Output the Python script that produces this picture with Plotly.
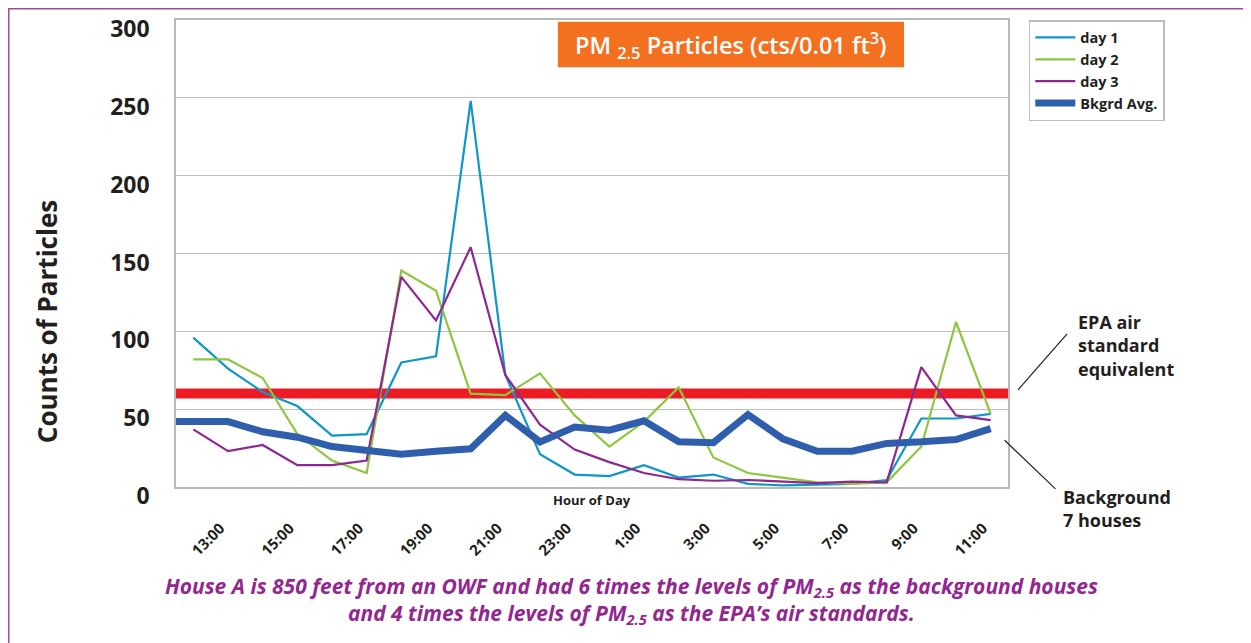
import plotly.graph_objects as go

# hourly readings, 13:00 through 12:00 the next day
hours = ["13:00", "14:00", "15:00", "16:00", "17:00", "18:00", "19:00", "20:00",
         "21:00", "22:00", "23:00", "0:00", "1:00", "2:00", "3:00", "4:00",
         "5:00", "6:00", "7:00", "8:00", "9:00", "10:00", "11:00", "12:00"]

day1 = [96, 76, 61, 52, 33, 34, 80, 84, 248, 72, 21, 8,
        7, 14, 6, 8, 2, 1, 1.5, 2, 4.5, 44, 44, 47]
day2 = [82, 82, 70, 34, 17, 9, 139, 126, 60, 59, 73, 46,
        26, 42, 64, 19, 9, 6, 3, 2, 3, 26, 106, 47]
day3 = [37, 23, 27, 14, 14, 17, 135, 107, 154, 72, 40, 24,
        16, 9, 5, 4, 4.5, 3.5, 2.5, 3.5, 3, 77, 46, 43]
# background average of 7 houses (first value sits at the left edge of the frame)
bkgrd_x = [-0.5] + list(range(len(hours)))
bkgrd = [42, 42, 42, 35.5, 32, 26, 23, 21, 23, 24.5, 46, 29, 38.5,
         36.5, 42.5, 29, 28.5, 46.5, 31, 23, 23, 28, 29, 30.5, 37.5]
EPA_LEVEL = 60

y_ticks = [0, 50, 100, 150, 200, 250, 300]

FONT = "Open Sans"
TEXT_COLOR = "#231F20"
GRID = "#BDBDBD"
CAPTION_COLOR = "#92278F"

x_pos = list(range(len(hours)))

fig = go.Figure()
series = [
    ("day 1", day1, "#0E96C9", 2.2),
    ("day 2", day2, "#8DC63F", 2.2),
    ("day 3", day3, "#8E278F", 2.2),
]
for name, vals, color, width in series:
    fig.add_trace(go.Scatter(x=x_pos, y=vals, mode="lines", name=name,
                             line=dict(color=color, width=width)))
fig.add_trace(go.Scatter(x=bkgrd_x, y=bkgrd, mode="lines", name="Bkgrd Avg.",
                         line=dict(color="#2F5FAC", width=7)))

# EPA equivalent as a thick red band across the whole plot
fig.add_hline(y=EPA_LEVEL, line=dict(color="#ED1C24", width=10), layer="below")

# page body adds an 8px margin, so the figure is 8px smaller than the window
fig.update_layout(
    width=1243, height=635,
    margin=dict(l=168, r=243, t=12, b=156, autoexpand=False),
    paper_bgcolor="white", plot_bgcolor="white",
    font=dict(family=FONT, color=TEXT_COLOR),
    legend=dict(
        x=1.025, y=1.0, xanchor="left", yanchor="top",
        bordercolor="#BDBDBD", borderwidth=1.5,
        font=dict(size=14.5, family=FONT, weight="bold"),
        tracegroupgap=0, itemwidth=40,
    ),
    xaxis=dict(
        range=[-0.5, len(hours) - 0.5],
        tickvals=x_pos[::2], ticktext=hours[::2],
        tickangle=-45, ticks="", automargin=False,
        tickfont=dict(size=15, family=FONT, weight="bold"),
        ticklabelstandoff=25, ticklabelshift=27,
        showgrid=False, zeroline=False,
        showline=True, mirror=True, linecolor="#B8B8B8", linewidth=1.5,
    ),
    yaxis=dict(
        range=[0, 300], tickvals=y_ticks, automargin=False,
        tickfont=dict(size=23, family=FONT, weight="bold"),
        ticklabelstandoff=20, ticklabelshift=9, ticklabeloverflow="allow",
        showgrid=True, gridcolor=GRID, gridwidth=1,
        zeroline=False,
        showline=True, mirror=True, linecolor="#B8B8B8", linewidth=1.5,
    ),
)

# orange title box
fig.add_shape(type="rect", xref="paper", yref="paper",
              x0=0.459, x1=0.875, y0=0.899, y1=0.996,
              fillcolor="#F37021", line=dict(width=0), layer="below")
fig.add_annotation(xref="paper", yref="paper", x=0.667, y=0.947,
                   xanchor="center", yanchor="middle",
                   text="PM <sub>2.5</sub> Particles (cts/0.01 ft<sup>3</sup>)",
                   showarrow=False,
                   font=dict(size=23.5, color="white", family=FONT, weight=600))

# axis titles
fig.add_annotation(xref="paper", yref="paper", x=0.5, y=-0.028,
                   xanchor="center", yanchor="middle",
                   text="Hour of Day", showarrow=False,
                   font=dict(size=13, family=FONT, weight="bold"))
fig.add_annotation(xref="paper", yref="paper", x=-0.155, y=0.353,
                   xanchor="center", yanchor="middle",
                   text="Counts of Particles", textangle=-90, showarrow=False,
                   font=dict(size=26, family=FONT, weight="bold"))

# right-hand callouts with leader lines
fig.add_annotation(xref="paper", yref="paper", x=1.082, y=0.304,
                   xanchor="left", yanchor="middle", align="left",
                   text="EPA air<br>standard<br>equivalent", showarrow=False,
                   font=dict(size=18, family=FONT, weight="bold"))
fig.add_shape(type="line", xref="paper", yref="paper",
              x0=1.071, y0=0.328, x1=1.012, y1=0.208,
              line=dict(color=TEXT_COLOR, width=1.2))
fig.add_annotation(xref="paper", yref="paper", x=1.064, y=-0.046,
                   xanchor="left", yanchor="middle", align="left",
                   text="Background<br>7 houses", showarrow=False,
                   font=dict(size=18, family=FONT, weight="bold"))
fig.add_shape(type="line", xref="paper", yref="paper",
              x0=0.996, y0=0.1, x1=1.057, y1=-0.004,
              line=dict(color=TEXT_COLOR, width=1.2))

# caption, one annotation per line
caption_font = dict(size=21, color=CAPTION_COLOR, family=FONT, weight="bold",
                    style="italic")
fig.add_annotation(xref="paper", yref="paper", x=0.547, y=-0.214,
                   xanchor="center", yanchor="middle", showarrow=False,
                   text="House A is 850 feet from an OWF and had 6 times the levels of PM<sub>2.5</sub> as the background houses",
                   font=caption_font)
fig.add_annotation(xref="paper", yref="paper", x=0.547, y=-0.272,
                   xanchor="center", yanchor="middle", showarrow=False,
                   text="and 4 times the levels of PM<sub>2.5</sub> as the EPA\u2019s air standards.",
                   font=caption_font)

# thin purple frame around the panel (top and left edges visible)
fig.add_shape(type="rect", xref="paper", yref="paper",
              x0=-0.201, x1=1.4, y0=1.024, y1=-0.4,
              line=dict(color="#A2479F", width=1.5), layer="above")

fig.write_html("out.html")
